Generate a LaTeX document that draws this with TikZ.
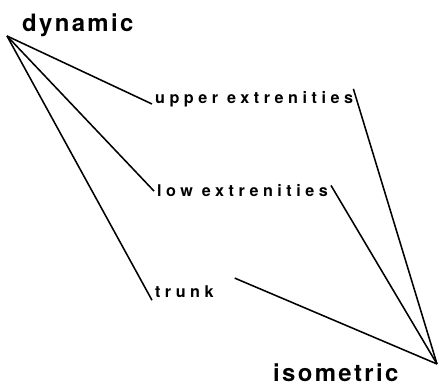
\documentclass[tikz,border=0pt]{standalone}
\usepackage{fontspec}
\newfontfamily\bigfont{texgyreheros-bold}[Extension=.otf, LetterSpace=10]
\newfontfamily\smallfont{texgyreheros-bold}[Extension=.otf, LetterSpace=28]
\usetikzlibrary{positioning}

\begin{document}
\begin{tikzpicture}[
  x=0.025cm, y=-0.025cm, % one unit = one pixel of the original sketch
  big/.style={font=\bigfont\fontsize{17}{19}\selectfont, inner sep=2pt},
  item/.style={font=\smallfont\fontsize{11.5}{13}\selectfont, inner sep=2pt},
  link/.style={line width=1.1pt}
]
\useasboundingbox (0,0) rectangle (439,386);

% Meeting points of the lines
\coordinate (dynapex) at (7,36);
\coordinate (isoapex) at (437,364);

% Labels
\node[big, anchor=base west] (dynamic) at (19,32) {dynamic};
\node[item, anchor=base west] (upper) at (152,104) {upper extrenities};
\node[item, anchor=base west] (low) at (154,197) {low extrenities};
\node[item, anchor=base west] (trunk) at (152,297) {trunk};
\node[big, anchor=base west] (iso) at (270,381) {isometric};

% Fan from dynamic
\draw[link] (dynapex) -- (upper.base west);
\draw[link] (dynapex) -- (low.west);
\draw[link] (dynapex) -- (trunk.south west);

% Fan into isometric
\draw[link] ([xshift=-2pt]upper.north east) -- (isoapex);
\draw[link] ([yshift=4pt]low.east) -- (isoapex);
\draw[link] ([shift={(0.45cm,0.1cm)}]trunk.north east) -- (isoapex);

\end{tikzpicture}
\end{document}
